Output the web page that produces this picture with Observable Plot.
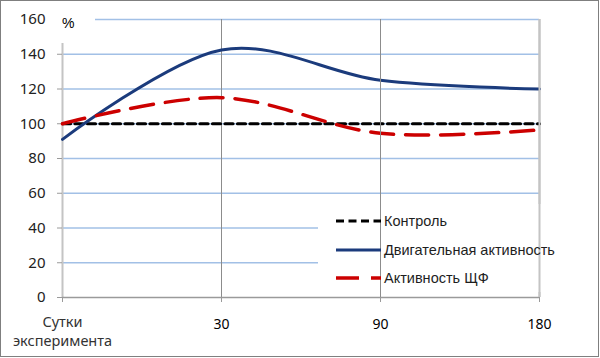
<!DOCTYPE html>
<html><head><meta charset="utf-8">
<script src="https://cdn.jsdelivr.net/npm/d3@7"></script>
<script src="https://cdn.jsdelivr.net/npm/@observablehq/plot@0.6"></script>
<style>
body{margin:0;background:#fff;}
#wrap{position:relative;width:600px;height:358px;overflow:hidden;font-family:"Liberation Sans",Arial,sans-serif;background:#fff;}
#wrap > *{position:absolute;}
</style></head><body>
<div id="wrap"></div>
<script>
const days = ["0","30","90","180"];
const firstDayLabel = "Сутки\nэксперимента";
const yTicks = [0,20,40,60,80,100,120,140,160];
const seriesNames = ["Контроль","Двигательная активность","Активность ЩФ"];
const control = [100,100,100,100];
const motor = [91,142.5,125,120];
const alp = [100,115,94.5,96.5];
const unitLabel = "%";

const rows = days.map((d,i)=>({day:d, control:control[i], motor:motor[i], alp:alp[i]}));
const styles = [
  {stroke:"#000000", strokeWidth:3.2, strokeDasharray:"8,4.5", curve:"linear"},
  {stroke:"#1b3b7c", strokeWidth:3, curve:"cardinal"},
  {stroke:"#cc0000", strokeWidth:3.5, strokeDasharray:"23,12", curve:"cardinal"}
];
const keys = ["control","motor","alp"];

const common = {width:600,height:358,marginLeft:62,marginRight:61,marginTop:19,marginBottom:61,
  x:{type:"point",domain:days,padding:0}, y:{domain:[0,160]}};

const main = Plot.plot({...common, style:{background:"transparent", overflow:"visible"},
 marks:[
  Plot.gridY(yTicks.filter(v=>v>0), {stroke:"#a2c0e6", strokeOpacity:1, strokeWidth:1.5}),
  Plot.ruleX(days.slice(1,3), {stroke:"#8c8c8c", strokeWidth:1}),
  Plot.ruleX([days[3]], {stroke:"#c4c4c4", strokeWidth:2}),
  Plot.ruleX([days[0]], {stroke:"#c4c4c4", strokeWidth:2}),
  Plot.ruleY([0], {stroke:"#9a9a9a", strokeWidth:1.3}),
  Plot.axisY({ticks:yTicks, tickSize:5, tickPadding:12, stroke:"#9a9a9a", fill:"#222", fontSize:15, label:null}),
  Plot.axisX({ticks:days.slice(1), tickSize:5, tickPadding:17, stroke:"#9a9a9a", fill:"#000", fontSize:14, label:null}),
  Plot.axisX({ticks:[days[0]], tickSize:5, tickPadding:11, stroke:"#9a9a9a", fill:"#333", fontSize:14.5, lineHeight:1.3, tickFormat:()=>firstDayLabel, label:null}),
  ...keys.map((k,i)=>Plot.line(rows,{x:"day", y:k, ...styles[i]}))
 ]});

const over = Plot.plot({...common, x:{...common.x, axis:null}, y:{...common.y, axis:null},
 style:{background:"transparent"},
 marks:[
  Plot.ruleX([days[2]], {stroke:"#8c8c8c", strokeWidth:1}),
  Plot.ruleX([days[3]], {stroke:"#c4c4c4", strokeWidth:2})
 ]});

const wrap = document.getElementById("wrap");
wrap.appendChild(main); main.style.left="0px"; main.style.top="0px";

const legBg = document.createElement("div");
Object.assign(legBg.style,{left:"318px",top:"204px",width:"250px",height:"88px",background:"#fff"});
wrap.appendChild(legBg);

wrap.appendChild(over); over.style.left="0px"; over.style.top="0px";

const pct = document.createElement("div");
Object.assign(pct.style,{left:"50px",top:"4px",width:"45px",height:"39px",background:"#fff"});
const pctT = document.createElement("span");
pctT.textContent = unitLabel;
Object.assign(pctT.style,{position:"absolute",left:"12px",top:"11px",fontSize:"14px",lineHeight:"16px",color:"#000"});
pct.appendChild(pctT);
wrap.appendChild(pct);

const rowY = [221,249.5,278];
seriesNames.forEach((name,i)=>{
  const s = styles[i];
  const sw = document.createElementNS("http://www.w3.org/2000/svg","svg");
  sw.setAttribute("width","46"); sw.setAttribute("height","8");
  sw.style.position="absolute"; sw.style.left="335px"; sw.style.top=(rowY[i]-4)+"px";
  const ln = document.createElementNS("http://www.w3.org/2000/svg","line");
  ln.setAttribute("x1","1"); ln.setAttribute("x2","46"); ln.setAttribute("y1","4"); ln.setAttribute("y2","4");
  ln.setAttribute("stroke",s.stroke); ln.setAttribute("stroke-width",s.strokeWidth);
  if (s.strokeDasharray) ln.setAttribute("stroke-dasharray",s.strokeDasharray);
  sw.appendChild(ln); wrap.appendChild(sw);
  const t = document.createElement("div");
  t.textContent = name;
  Object.assign(t.style,{left:"384px",top:(rowY[i]-9)+"px",fontSize:"14.5px",lineHeight:"18px",color:"#1e1e1e",whiteSpace:"nowrap"});
  wrap.appendChild(t);
});

const frame = document.createElement("div");
Object.assign(frame.style,{left:"0px",top:"0px",width:"597px",height:"355px",border:"1px solid #7f7f7f",pointerEvents:"none"});
wrap.appendChild(frame);
</script>
</body></html>
